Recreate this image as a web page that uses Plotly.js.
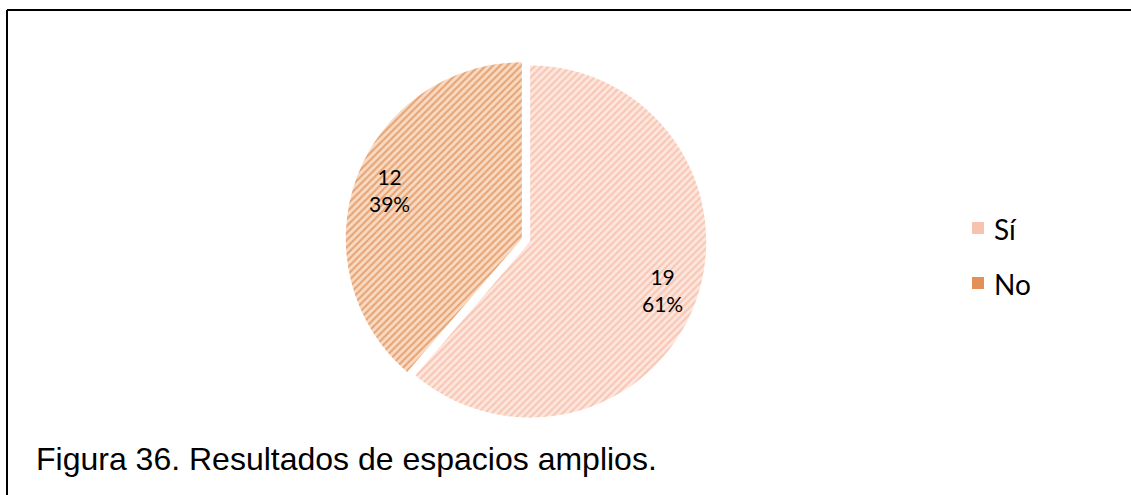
<!DOCTYPE html>
<html>
<head>
<meta charset="utf-8">
<script src="https://cdn.plot.ly/plotly-3.0.1.min.js"></script>
<style>
  html, body { margin: 0; padding: 0; background: #ffffff; }
  #chart { width: 1131px; height: 495px; }
</style>
</head>
<body>
<div id="chart"></div>
<script>
// Data
const labels = ["Sí", "No"];
const values = [19, 12];
const captionText = "Figura 36. Resultados de espacios amplios.";

// Styles
const bgColors = ["#fde6dd", "#f9dac3"];
const fgColors = ["#f3a68b", "#d46f28"];
const swatchColors = ["#f7c2ae", "#e39058"];

const W = 1131, H = 495;
const px = v => v / W;
const py = v => 1 - v / H;

// Pie geometry (pixels)
const domX = [345.5, 706.5], domY = [59.5, 420.5];
const pullFrac = 0.025;
const cx = (domX[0] + domX[1]) / 2, cy = (domY[0] + domY[1]) / 2;
const rad = Math.min(domX[1] - domX[0], domY[1] - domY[0]) / (2 + 2 * pullFrac);

const total = values.reduce((a, b) => a + b, 0);

const trace = {
  type: "pie",
  labels: labels,
  values: values,
  sort: false,
  direction: "clockwise",
  rotation: 0,
  pull: values.map(() => pullFrac),
  textinfo: "none",
  showlegend: false,
  marker: {
    colors: bgColors,
    line: { color: "#ffffff", width: 0 },
    pattern: {
      shape: "/",
      fgcolor: fgColors,
      bgcolor: bgColors,
      size: 5,
      solidity: 0.42,
      fillmode: "overlay"
    }
  },
  domain: { x: [px(domX[0]), px(domX[1])], y: [py(domY[1]), py(domY[0])] },
  hoverinfo: "label+value+percent"
};

// Data labels placed along each slice's mid-angle, toward the outer edge
const annotations = [];
let cum = 0;
values.forEach((v, i) => {
  const mid = (cum + v / 2) / total * 2 * Math.PI;
  cum += v;
  const R = rad * 0.8 + rad * pullFrac;
  const x = cx + R * Math.sin(mid);
  const y = cy - R * Math.cos(mid);
  annotations.push({
    text: v + "<br>" + Math.round(v / total * 100) + "%",
    xref: "paper", yref: "paper", x: px(x), y: py(y),
    xanchor: "center", yanchor: "middle", showarrow: false, align: "center",
    font: { family: "Lato, 'Open Sans', sans-serif", size: 21, color: "#000000" }
  });
});

// Legend (text entries + swatches)
const legendX = 972, legendY0 = 228, legendGap = 55, sw = 12;
const shapes = [
  { type: "line", xref: "paper", yref: "paper", x0: px(7), x1: 1, y0: py(10), y1: py(10), line: { color: "#000000", width: 2 } },
  { type: "line", xref: "paper", yref: "paper", x0: px(7), x1: px(7), y0: py(10), y1: 0, line: { color: "#000000", width: 2 } }
];
labels.forEach((lab, i) => {
  const yc = legendY0 + i * legendGap;
  shapes.push({
    type: "rect", xref: "paper", yref: "paper",
    x0: px(legendX), x1: px(legendX + sw), y0: py(yc + sw / 2), y1: py(yc - sw / 2),
    fillcolor: swatchColors[i], line: { width: 0 }
  });
  annotations.push({
    text: lab, xref: "paper", yref: "paper", x: px(legendX + 20), y: py(yc + 1),
    xanchor: "left", yanchor: "middle", showarrow: false,
    font: { family: "Lato, 'Open Sans', sans-serif", size: 28, color: "#000000" }
  });
});

annotations.push({
  text: captionText, xref: "paper", yref: "paper",
  x: px(34), y: py(479), xanchor: "left", yanchor: "bottom", showarrow: false,
  font: { family: "'Liberation Sans', Arial, sans-serif", size: 32, color: "#000000" }
});

const layout = {
  width: W,
  height: H,
  margin: { l: 0, r: 0, t: 0, b: 0 },
  paper_bgcolor: "#ffffff",
  plot_bgcolor: "#ffffff",
  showlegend: false,
  shapes: shapes,
  annotations: annotations
};

Plotly.newPlot("chart", [trace], layout, { displayModeBar: false, staticPlot: true });
</script>
</body>
</html>
